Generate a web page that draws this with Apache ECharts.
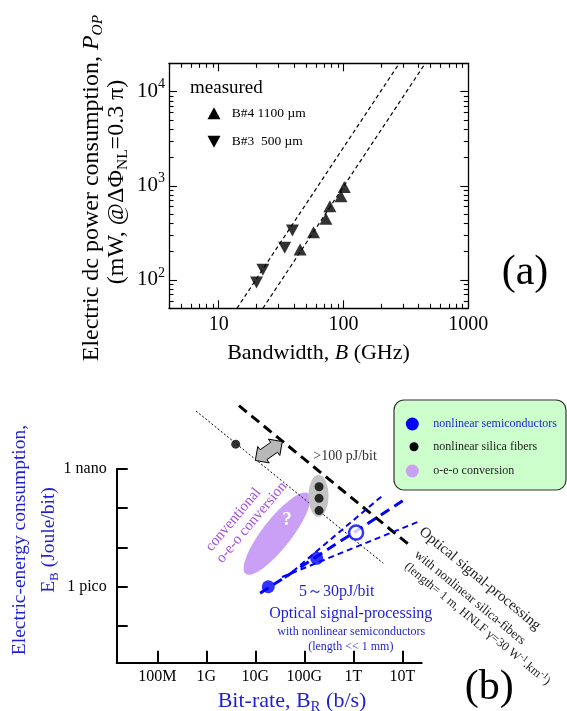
<!DOCTYPE html>
<html><head><meta charset="utf-8">
<script src="https://cdn.jsdelivr.net/npm/echarts@6/dist/echarts.min.js"></script>
<style>html,body{margin:0;padding:0;background:#fff}#c{width:567px;height:711px}</style>
</head><body><div id="c"></div>
<script>
// ---------- (a) measured power vs bandwidth ----------
const bwB4 = [44.9, 57.5, 72.3, 77.8, 95.5, 101.5];
const powB4 = [211, 322, 447, 607, 774, 973];
const bwB3 = [20.1, 22.6, 33.8, 39.0];
const powB3 = [94, 128, 220, 336];
const fitB3Bw = [14.0, 280];
const fitB3Pow = [50, 20000];
const fitB4Bw = [22.6, 452];
const fitB4Pow = [50, 20000];
const bwTickValues = [10, 100, 1000];
const bwTickLabels = ['10', '100', '1000'];
const powTickValues = [100, 1000, 10000];
const powTickExponents = ['2', '3', '4'];
const legendA = ['B#4 1100 µm', 'B#3  500 µm'];

// ---------- (b) energy per bit vs bit-rate ----------
const semiRate = [1.84e10, 1.79e11];
const semiEnergy = [1.0e-12, 5.3e-12];
const semiOpenRate = [1.14e12];
const semiOpenEnergy = [2.4e-11];
const fiberRate = [3.98e9, 2.0e11, 2.0e11, 2.0e11];
const fiberEnergy = [4.3e-9, 3.54e-10, 1.79e-10, 8.7e-11];
const fiberTrendRate = [6.17e8, 4.09e12];
const fiberTrendEnergy = [3.0e-8, 3.95e-12];
const fiberLimitRate = [4.65e9, 1.39e13];
const fiberLimitEnergy = [4.1e-8, 1.16e-11];
const semiTrendRate = [1.25e10, 1.23e13];
const semiTrendEnergy = [6.8e-13, 1.8e-10];
const semiSteepRate = [4.04e10, 4.09e12];
const semiSteepEnergy = [1.67e-12, 2.18e-10];
const semiShallowRate = [3.51e10, 2.12e13];
const semiShallowEnergy = [1.77e-12, 4.54e-11];
const oeoRate = [2.77e10];
const oeoEnergy = [2.25e-11];
const fiberGroupRate = [1.95e11];
const fiberGroupEnergy = [2.07e-10];
const gapArrowRate = [1.0e10, 3.55e10];
const gapArrowEnergy = [1.65e-9, 5.0e-9];
const rateTickValues = [1e8, 1e9, 1e10, 1e11, 1e12, 1e13];
const rateTickLabels = ['100M', '1G', '10G', '100G', '1T', '10T'];
const energyTickValues = [1e-9, 1e-10, 1e-11, 1e-12, 1e-13];
const energyLabelValues = [1e-9, 1e-12];
const energyLabelTexts = ['1 nano', '1 pico'];
const legendB = ['nonlinear semiconductors', 'nonlinear silica fibers', 'o-e-o conversion'];

// ---------- helpers ----------
const FONT = '"Liberation Serif", "Times New Roman", Times, serif';
const BLUE_TXT = '#1f1fd6';
const BLUE = '#0000ff';
const PURPLE_TXT = '#a64de6';
const PURPLE = '#c9a0f5';
const zip = (a, b) => a.map((v, i) => [v, b[i]]);
const sameLog = (a, b) => Math.abs(Math.log10(a) - Math.log10(b)) < 1e-6;
function minorTicks(lo, hi) {
  const out = [];
  for (let e = Math.floor(Math.log10(lo)); e <= Math.ceil(Math.log10(hi)); e++) {
    for (let m = 2; m <= 9; m++) {
      const v = m * Math.pow(10, e);
      if (v >= lo * 0.9999 && v <= hi * 1.0001) out.push(v);
    }
  }
  return out;
}
function logAxis(gridIndex, pos, min, max, ticks, len, lineShow, lineWidth, tickWidth, label) {
  return {
    type: 'log', logBase: 10, gridIndex, position: pos, min, max,
    axisLine: { show: lineShow, onZero: false, lineStyle: { color: '#000', width: lineWidth } },
    axisTick: { show: true, inside: true, length: len, customValues: ticks, lineStyle: { color: '#000', width: tickWidth } },
    axisLabel: label || { show: false },
    splitLine: { show: false }, minorTick: { show: false }, minorSplitLine: { show: false },
    axisPointer: { show: false }
  };
}

const xMinA = 4, xMaxA = 1000, yMinA = 50, yMaxA = 20000;
const xMinB = Math.pow(10, 7.171), xMaxB = Math.pow(10, 13.396);
const yMinB = Math.pow(10, -13.936), yMaxB = 1e-9;

const xLabelA = {
  show: true, customValues: bwTickValues, fontSize: 20, fontFamily: FONT, color: '#000', margin: 6,
  formatter: v => { const i = bwTickValues.findIndex(t => sameLog(t, v)); return i < 0 ? '' : bwTickLabels[i]; }
};
const yLabelA = {
  show: true, customValues: powTickValues, margin: 4,
  formatter: v => { const i = powTickValues.findIndex(t => sameLog(t, v)); return i < 0 ? '' : '{b|10}{s|' + powTickExponents[i] + '}'; },
  rich: {
    b: { fontSize: 21, fontFamily: FONT, color: '#000', lineHeight: 28 },
    s: { fontSize: 14, fontFamily: FONT, color: '#000', lineHeight: 14, verticalAlign: 'top' }
  }
};
const xLabelB = {
  show: true, customValues: rateTickValues, fontSize: 16, fontFamily: FONT, color: '#000', margin: 6,
  formatter: v => { const i = rateTickValues.findIndex(t => sameLog(t, v)); return i < 0 ? '' : rateTickLabels[i]; }
};
const yLabelB = {
  show: true, customValues: energyLabelValues, fontSize: 16, fontFamily: FONT, color: '#000', margin: 10,
  formatter: v => { const i = energyLabelValues.findIndex(t => sameLog(t, v)); return i < 0 ? '' : energyLabelTexts[i]; }
};

function ellipseItem(rx, ry, rotDeg, fill, extra) {
  return function (params, api) {
    const c = api.coord([api.value(0), api.value(1)]);
    const children = [{
      type: 'circle', x: c[0], y: c[1], rotation: rotDeg * Math.PI / 180, scaleX: rx, scaleY: ry,
      shape: { cx: 0, cy: 0, r: 1 }, style: { fill: fill }
    }];
    if (extra) children.push(extra(c));
    return { type: 'group', children };
  };
}

const chart = echarts.init(document.getElementById('c'), null, { renderer: 'canvas' });
const option = {
  animation: false,
  backgroundColor: '#fff',
  grid: [
    { left: 169, top: 63.3, width: 299.3, height: 245, containLabel: false },
    { left: 116.7, top: 469, width: 305, height: 193.7, containLabel: false }
  ],
  xAxis: [
    logAxis(0, 'bottom', xMinA, xMaxA, bwTickValues, 8, true, 1.3, 1.1, xLabelA),
    logAxis(0, 'bottom', xMinA, xMaxA, minorTicks(xMinA, xMaxA), 4.5, false, 1, 1.1),
    logAxis(0, 'top', xMinA, xMaxA, bwTickValues, 8, true, 1.3, 1.1),
    logAxis(0, 'top', xMinA, xMaxA, minorTicks(xMinA, xMaxA), 4.5, false, 1, 1.1),
    logAxis(1, 'bottom', xMinB, xMaxB, rateTickValues, 12, true, 2, 2, xLabelB)
  ],
  yAxis: [
    logAxis(0, 'left', yMinA, yMaxA, powTickValues, 8, true, 1.3, 1.1, yLabelA),
    logAxis(0, 'left', yMinA, yMaxA, minorTicks(yMinA, yMaxA), 4.5, false, 1, 1.1),
    logAxis(0, 'right', yMinA, yMaxA, powTickValues, 8, true, 1.3, 1.1),
    logAxis(0, 'right', yMinA, yMaxA, minorTicks(yMinA, yMaxA), 4.5, false, 1, 1.1),
    logAxis(1, 'left', yMinB, yMaxB, energyTickValues, 11, true, 2, 2, yLabelB)
  ],
  series: [
    // ----- (a)
    { type: 'line', xAxisIndex: 0, yAxisIndex: 0, data: zip(fitB3Bw, fitB3Pow), symbol: 'none', silent: true,
      lineStyle: { color: '#000', width: 1.2, type: [4, 3] }, z: 2 },
    { type: 'line', xAxisIndex: 0, yAxisIndex: 0, data: zip(fitB4Bw, fitB4Pow), symbol: 'none', silent: true,
      lineStyle: { color: '#000', width: 1.2, type: [4, 3] }, z: 2 },
    { type: 'scatter', name: legendA[0], xAxisIndex: 0, yAxisIndex: 0, data: zip(bwB4, powB4), symbol: 'triangle',
      symbolSize: [13, 12], itemStyle: { color: '#000' }, z: 3 },
    { type: 'scatter', name: legendA[1], xAxisIndex: 0, yAxisIndex: 0, data: zip(bwB3, powB3), symbol: 'triangle',
      symbolRotate: 180, symbolSize: [13, 12], itemStyle: { color: '#000' }, z: 3 },
    // ----- (b)
    { type: 'custom', xAxisIndex: 4, yAxisIndex: 4, clip: false, silent: true, z: 1,
      data: zip(oeoRate, oeoEnergy),
      renderItem: ellipseItem(51, 14.5, 52, PURPLE, c => ({
        type: 'text', x: c[0] + 10, y: c[1] - 14,
        style: { text: '?', fill: '#fff', font: 'bold 19px ' + FONT, textAlign: 'center', textVerticalAlign: 'middle' }
      })) },
    { type: 'line', xAxisIndex: 4, yAxisIndex: 4, clip: false, data: zip(fiberTrendRate, fiberTrendEnergy), symbol: 'none', silent: true,
      lineStyle: { color: '#000', width: 1, type: [2, 2] }, z: 2 },
    { type: 'line', xAxisIndex: 4, yAxisIndex: 4, clip: false, data: zip(fiberLimitRate, fiberLimitEnergy), symbol: 'none', silent: true,
      lineStyle: { color: '#000', width: 3, type: [10, 6] }, z: 2 },
    { type: 'custom', xAxisIndex: 4, yAxisIndex: 4, clip: false, silent: true, z: 3,
      data: zip(fiberGroupRate, fiberGroupEnergy),
      renderItem: ellipseItem(10, 21, 0, '#c4c4c4') },
    { type: 'custom', xAxisIndex: 4, yAxisIndex: 4, clip: false, silent: true, z: 3,
      data: [[gapArrowRate[0], gapArrowEnergy[0], gapArrowRate[1], gapArrowEnergy[1]]],
      renderItem: (params, api) => {
        const p1 = api.coord([api.value(0), api.value(1)]);
        const p2 = api.coord([api.value(2), api.value(3)]);
        const dx = p2[0] - p1[0], dy = p2[1] - p1[1], L = Math.hypot(dx, dy);
        const ux = dx / L, uy = dy / L, nx = -uy, ny = ux;
        const hl = 10, hw = 10, sw = 6;
        const loc = [[0, 0], [hl, hw], [hl, sw], [L - hl, sw], [L - hl, hw], [L, 0], [L - hl, -hw], [L - hl, -sw], [hl, -sw], [hl, -hw]];
        const pts = loc.map(([a, b]) => [p1[0] + ux * a + nx * b, p1[1] + uy * a + ny * b]);
        return { type: 'polygon', shape: { points: pts }, style: { fill: '#b8b8b8', stroke: '#000', lineWidth: 1 } };
      } },
    { type: 'scatter', name: legendB[1], xAxisIndex: 4, yAxisIndex: 4, clip: false, data: zip(fiberRate, fiberEnergy),
      symbol: 'circle', symbolSize: 9, itemStyle: { color: '#000' }, z: 4 },
    { type: 'line', xAxisIndex: 4, yAxisIndex: 4, clip: false, data: zip(semiSteepRate, semiSteepEnergy), symbol: 'none', silent: true,
      lineStyle: { color: BLUE, width: 2, type: [6, 4] }, z: 5 },
    { type: 'line', xAxisIndex: 4, yAxisIndex: 4, clip: false, data: zip(semiShallowRate, semiShallowEnergy), symbol: 'none', silent: true,
      lineStyle: { color: BLUE, width: 2, type: [6, 4] }, z: 5 },
    { type: 'line', xAxisIndex: 4, yAxisIndex: 4, clip: false, data: zip(semiTrendRate, semiTrendEnergy), symbol: 'none', silent: true,
      lineStyle: { color: BLUE, width: 3, type: [10, 6] }, z: 5 },
    { type: 'scatter', name: legendB[0], xAxisIndex: 4, yAxisIndex: 4, clip: false, data: zip(semiRate, semiEnergy),
      symbol: 'circle', symbolSize: 13, itemStyle: { color: BLUE }, z: 6 },
    { type: 'scatter', xAxisIndex: 4, yAxisIndex: 4, clip: false, data: zip(semiOpenRate, semiOpenEnergy),
      symbol: 'circle', symbolSize: 14, itemStyle: { color: '#fff', borderColor: BLUE, borderWidth: 2.5 }, z: 6 }
  ],
  graphic: [
    // ---- (a) titles and legend
    { type: 'text', x: 91.7, y: 188, rotation: Math.PI / 2,
      style: { text: '{n|Electric dc power consumption, }{i|P}{s|OP}', textAlign: 'center', textVerticalAlign: 'middle',
        rich: { n: { fontSize: 24, fontFamily: FONT, fill: '#000', lineHeight: 28 },
                i: { fontSize: 24, fontFamily: FONT, fontStyle: 'italic', fill: '#000', lineHeight: 28 },
                s: { fontSize: 15.5, fontFamily: FONT, fontStyle: 'italic', fill: '#000', lineHeight: 15, verticalAlign: 'bottom' } } } },
    { type: 'text', x: 116.7, y: 182, rotation: Math.PI / 2,
      style: { text: '{n|(mW, @ΔΦ}{s|NL}{n|=0.3 π)}', textAlign: 'center', textVerticalAlign: 'middle',
        rich: { n: { fontSize: 24, fontFamily: FONT, fill: '#000', lineHeight: 28 },
                s: { fontSize: 15.5, fontFamily: FONT, fill: '#000', lineHeight: 15, verticalAlign: 'bottom' } } } },
    { type: 'text', x: 318.5, y: 353,
      style: { text: '{n|Bandwidth, }{i|B}{n| (GHz)}', textAlign: 'center', textVerticalAlign: 'middle',
        rich: { n: { fontSize: 22, fontFamily: FONT, fill: '#000' },
                i: { fontSize: 22, fontFamily: FONT, fontStyle: 'italic', fill: '#000' } } } },
    { type: 'text', x: 190, y: 87.7, style: { text: 'measured', font: '19px ' + FONT, fill: '#000', textVerticalAlign: 'middle' } },
    { type: 'polygon', shape: { points: [[207.5, 119.3], [220.5, 119.3], [214, 107.3]] }, style: { fill: '#000' } },
    { type: 'polygon', shape: { points: [[207.5, 135.7], [220.5, 135.7], [214, 147.7]] }, style: { fill: '#000' } },
    { type: 'text', x: 231.7, y: 113.3, style: { text: legendA[0], font: '13.5px ' + FONT, fill: '#000', textVerticalAlign: 'middle' } },
    { type: 'text', x: 231.7, y: 141.7, style: { text: legendA[1], font: '13.5px ' + FONT, fill: '#000', textVerticalAlign: 'middle' } },
    { type: 'text', x: 525, y: 273, style: { text: '(a)', font: '42px ' + FONT, fill: '#000', textAlign: 'center', textVerticalAlign: 'middle' } },
    // ---- (b) titles
    { type: 'text', x: 20, y: 540, rotation: Math.PI / 2,
      style: { text: 'Electric-energy consumption,', font: '19.5px ' + FONT, fill: BLUE_TXT, textAlign: 'center', textVerticalAlign: 'middle' } },
    { type: 'text', x: 48.8, y: 540, rotation: Math.PI / 2,
      style: { text: '{n|E}{s|B}{n| (Joule/bit)}', textAlign: 'center', textVerticalAlign: 'middle',
        rich: { n: { fontSize: 19.5, fontFamily: FONT, fill: BLUE_TXT, lineHeight: 24 },
                s: { fontSize: 13, fontFamily: FONT, fill: BLUE_TXT, lineHeight: 13, verticalAlign: 'bottom' } } } },
    { type: 'text', x: 217.7, y: 701.7,
      style: { text: '{n|Bit-rate, B}{s|R}{n| (b/s)}', textAlign: 'left', textVerticalAlign: 'middle',
        rich: { n: { fontSize: 22, fontFamily: FONT, fill: BLUE_TXT, lineHeight: 26 },
                s: { fontSize: 15, fontFamily: FONT, fill: BLUE_TXT, lineHeight: 15, verticalAlign: 'bottom' } } } },
    { type: 'text', x: 489.3, y: 688, style: { text: '(b)', font: '42px ' + FONT, fill: '#000', textAlign: 'center', textVerticalAlign: 'middle' } },
    // ---- (b) legend box
    { type: 'rect', shape: { x: 394, y: 400, width: 172, height: 90, r: 10 }, style: { fill: '#ccffcc', stroke: '#333', lineWidth: 1.2 } },
    { type: 'circle', shape: { cx: 412.3, cy: 424, r: 6.5 }, style: { fill: BLUE } },
    { type: 'circle', shape: { cx: 414, cy: 446.7, r: 4.5 }, style: { fill: '#000' } },
    { type: 'circle', shape: { cx: 412.3, cy: 471, r: 6.5 }, style: { fill: PURPLE } },
    { type: 'text', x: 433.3, y: 424, style: { text: legendB[0], font: '12px ' + FONT, fill: BLUE_TXT, textVerticalAlign: 'middle' } },
    { type: 'text', x: 433.3, y: 446.7, style: { text: legendB[1], font: '12px ' + FONT, fill: '#222', textVerticalAlign: 'middle' } },
    { type: 'text', x: 433.3, y: 471, style: { text: legendB[2], font: '12px ' + FONT, fill: '#222', textVerticalAlign: 'middle' } },
    // ---- (b) annotations
    { type: 'text', x: 313.3, y: 456.7, style: { text: '>100 pJ/bit', font: '14px ' + FONT, fill: '#333', textVerticalAlign: 'middle' } },
    { type: 'text', x: 336.7, y: 591.7, style: { text: '5～30pJ/bit', font: '16px ' + FONT, fill: BLUE_TXT, textAlign: 'center', textVerticalAlign: 'middle' } },
    { type: 'text', x: 350.8, y: 614, style: { text: 'Optical signal-processing', font: '16px ' + FONT, fill: BLUE_TXT, textAlign: 'center', textVerticalAlign: 'middle' } },
    { type: 'text', x: 351.3, y: 632, style: { text: 'with nonlinear semiconductors', font: '12px ' + FONT, fill: BLUE_TXT, textAlign: 'center', textVerticalAlign: 'middle' } },
    { type: 'text', x: 350.8, y: 647.3, style: { text: '(length << 1 mm)', font: '12px ' + FONT, fill: BLUE_TXT, textAlign: 'center', textVerticalAlign: 'middle' } },
    { type: 'text', x: 233.3, y: 519.7, rotation: 50 * Math.PI / 180,
      style: { text: 'conventional', font: '15px ' + FONT, fill: PURPLE_TXT, textAlign: 'center', textVerticalAlign: 'middle' } },
    { type: 'text', x: 251.7, y: 522.5, rotation: 50 * Math.PI / 180,
      style: { text: 'o-e-o conversion', font: '15px ' + FONT, fill: PURPLE_TXT, textAlign: 'center', textVerticalAlign: 'middle' } },
    { type: 'text', x: 421, y: 530, rotation: -39.6 * Math.PI / 180,
      style: { text: 'Optical signal-processing', font: '15px ' + FONT, fill: '#222', textAlign: 'left', textVerticalAlign: 'middle' } },
    { type: 'text', x: 416, y: 553, rotation: -39.6 * Math.PI / 180,
      style: { text: 'with nonlinear silica-fibers', font: '13px ' + FONT, fill: '#222', textAlign: 'left', textVerticalAlign: 'middle' } },
    { type: 'text', x: 406, y: 565, rotation: -39.6 * Math.PI / 180,
      style: { text: '{n|(length= 1 m, HNLF γ=30 W}{p|-1}{n|.km}{p|-1}{n|)}', textAlign: 'left', textVerticalAlign: 'middle',
        rich: { n: { fontSize: 12.5, fontFamily: FONT, fill: '#222', lineHeight: 16 },
                p: { fontSize: 9, fontFamily: FONT, fill: '#222', lineHeight: 9, verticalAlign: 'top' } } } }
  ]
};
chart.setOption(option);
</script>
</body></html>
